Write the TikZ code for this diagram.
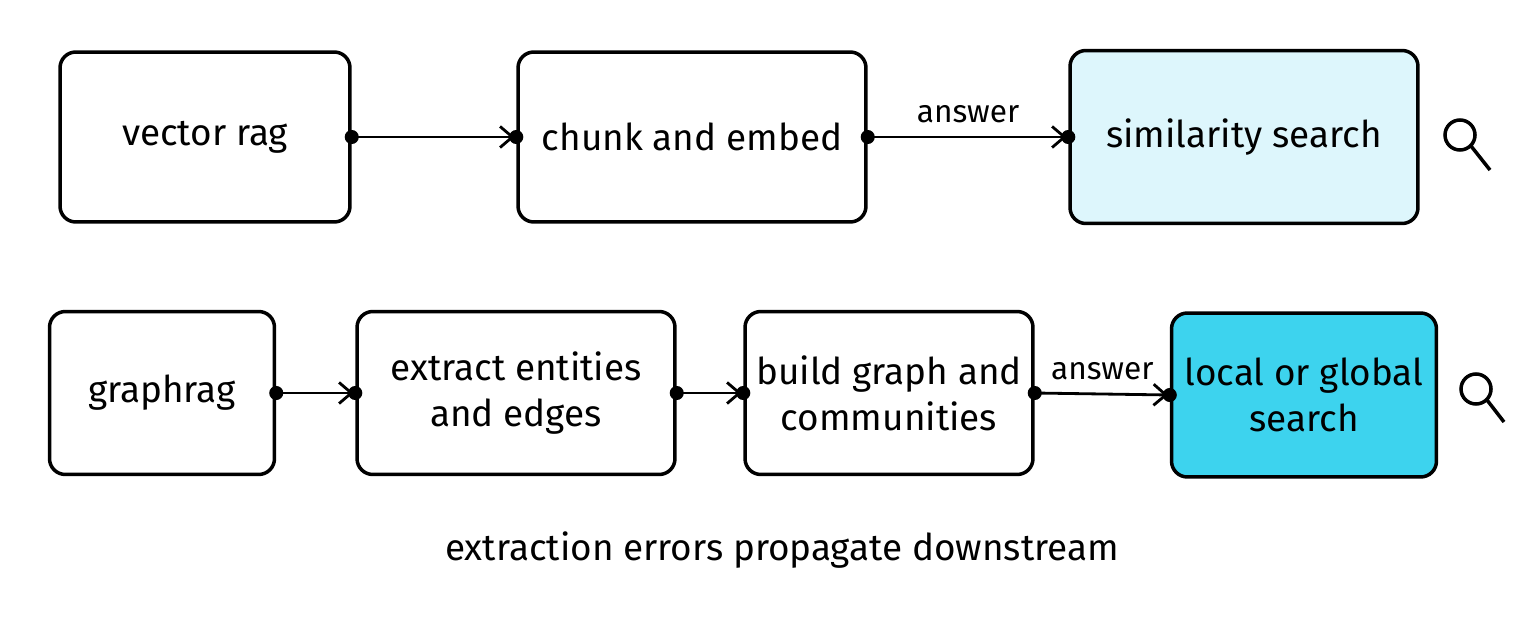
\documentclass[tikz,border=0pt]{standalone}
\usepackage{fontspec}
\setmainfont{Fira Sans}
\usetikzlibrary{arrows.meta}
\definecolor{palecyan}{HTML}{DDF6FC}
\definecolor{brightcyan}{HTML}{3DD3EE}
\begin{document}
\begin{tikzpicture}[x=0.02cm,y=-0.02cm,
                    main node/.style={draw,line width=2pt,rounded corners=9pt,align=center,
                      font=\fontsize{21}{26}\selectfont,inner sep=0pt},
                    flow/.style={line width=1.6pt,-{Straight Barb[length=7pt,width=12pt]},shorten >=1pt},
                    dot/.style={circle,fill=black,inner sep=0pt,minimum size=8pt},
                    lens/.style={line width=2pt}]
  \useasboundingbox (0,0) rectangle (1532,625);

  \node[main node] (vec) at (205,137) [minimum width=5.8cm,minimum height=3.4cm] {vector rag};
  \node[main node] (chunk) at (692,137) [minimum width=6.96cm,minimum height=3.4cm] {chunk and embed};
  \node[main node,fill=palecyan] (sim) at (1244,137) [minimum width=6.96cm,minimum height=3.46cm] {similarity search};

  \node[main node] (graph) at (162,393) [minimum width=4.5cm,minimum height=3.26cm] {graphrag};
  \node[main node] (extr) at (516,393) [minimum width=6.36cm,minimum height=3.26cm] {extract entities\\and edges};
  \node[main node] (build) at (889,393) [minimum width=5.76cm,minimum height=3.26cm] {build graph and\\communities};
  \node[main node,fill=brightcyan] (local) at (1304,395) [minimum width=5.3cm,minimum height=3.28cm] {local or global\\search};

  % connectors
  \foreach \a/\b/\t in {vec/chunk/, chunk/sim/answer, graph/extr/, extr/build/, build/local/answer} {
    \draw[flow] (\a.east) -- node[above=4pt,font=\fontsize{18}{20}\selectfont] {\t} (\b.west);
    \node[dot] at (\a.east) {};
    \node[dot] at (\b.west) {};
  }

  % search icons
  \draw[lens] (1460,135) circle (15) (1471,146) -- (1490,170);
  \draw[lens] (1476,389) circle (15) (1487,400) -- (1504,422);

  \node[font=\fontsize{21}{26}\selectfont] (note) at (782,550) {extraction errors propagate downstream};
\end{tikzpicture}
\end{document}
